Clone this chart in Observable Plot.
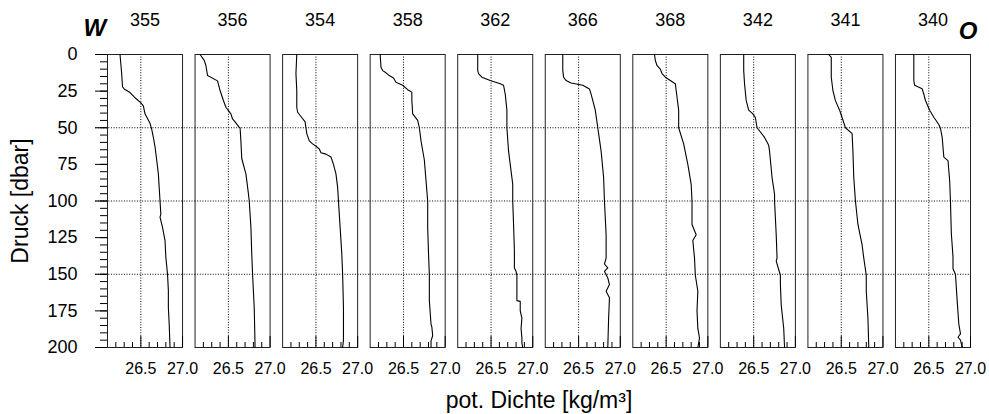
<!DOCTYPE html>
<html><head><meta charset="utf-8">
<script src="https://cdn.jsdelivr.net/npm/d3@7"></script>
<script src="https://cdn.jsdelivr.net/npm/@observablehq/plot@0.6"></script>
<style>
body{margin:0;background:#fff;}
g[aria-label="x-axis label"] text, g[aria-label="y-axis label"] text { font-size: 23px; }
</style>
</head><body><div id="chart"></div>
<script>
// Stations, west (W) to east (O)
const stations = ["355","356","354","358","362","366","368","342","341","340"];

// Pressure [dbar] and potential density [kg/m³] read from the profiles
const pres355 = [0,13,22,23.5,26,29,33,35,40.5,47,51,56.5,63,72,81.5,90.7,100,109,111,118,127,138.5,150,161,172.7,184,200];
const dens355 = [26.25,26.27,26.28,26.30,26.37,26.42,26.50,26.53,26.55,26.61,26.63,26.65,26.67,26.69,26.71,26.72,26.73,26.74,26.73,26.76,26.79,26.80,26.82,26.83,26.83,26.84,26.85];

const pres356 = [0,4,7.5,14.4,18,24.6,31.4,36,40.5,44,46,49.7,50,59,71,81.5,95,100,118,136,150,173,200];
const dens356 = [26.16,26.21,26.23,26.25,26.37,26.40,26.44,26.47,26.53,26.55,26.58,26.63,26.64,26.65,26.66,26.71,26.74,26.75,26.77,26.78,26.79,26.81,26.82];

const pres354 = [0,13,24.6,36,39.4,43,46,50,54,59,61,63,64.5,67,68,70,75,81.5,90.7,100,118,136,150,173,195,200];
const dens354 = [26.27,26.26,26.27,26.27,26.28,26.33,26.37,26.38,26.39,26.42,26.46,26.51,26.54,26.56,26.62,26.68,26.71,26.74,26.76,26.77,26.79,26.81,26.82,26.83,26.83,26.82];

const pres358 = [0,8.7,11,12.5,14.4,16,19,21,24,25.7,31.4,40.5,45,50,59,72,86,100,118,136,150,168,184,186,192,195.5,200];
const dens358 = [26.22,26.23,26.25,26.29,26.33,26.38,26.41,26.49,26.55,26.60,26.60,26.61,26.67,26.69,26.71,26.75,26.77,26.79,26.79,26.80,26.81,26.81,26.83,26.84,26.85,26.83,26.83];

const pres362 = [0,11,13,15.5,17.8,20,21,27,38,50,66,84,88.6,100,116,134,145.7,148,150.7,157,168,168.5,175,180,187,193.6,197,200];
const dens362 = [26.34,26.34,26.35,26.39,26.49,26.61,26.65,26.67,26.69,26.69,26.71,26.75,26.76,26.76,26.77,26.78,26.78,26.80,26.81,26.81,26.81,26.85,26.85,26.87,26.86,26.87,26.87,26.88];

const pres366 = [0,11,15.5,17.8,19.4,21,23.5,27,38,50,66,84,100,123,139,143,145.7,148,152.5,157,161.6,166,180,200];
const dens366 = [26.31,26.31,26.32,26.35,26.41,26.55,26.63,26.65,26.70,26.73,26.77,26.80,26.81,26.83,26.83,26.81,26.85,26.81,26.85,26.87,26.83,26.87,26.86,26.85];

const pres368 = [0,4,7.5,10,13,15.5,17.8,20,29,38,50,61,75,88.6,100,116,123,127,139,150.7,161.6,175,187,193.6,200];
const dens368 = [26.36,26.37,26.39,26.43,26.45,26.49,26.55,26.61,26.63,26.65,26.65,26.71,26.76,26.80,26.81,26.81,26.86,26.82,26.84,26.85,26.88,26.87,26.88,26.90,26.88];

const pres342 = [0,11,20,31.5,38,40.5,43,50,56.6,62,66,84,95.4,100,123,139,141,150.7,157,171,187,200];
const dens342 = [26.38,26.38,26.39,26.41,26.44,26.49,26.52,26.54,26.63,26.68,26.69,26.72,26.75,26.75,26.77,26.78,26.77,26.82,26.82,26.83,26.86,26.87];

const pres341 = [0,2,15.5,24.6,31.5,38,43,50,54,66,84,100,116,130,139,150.7,161.6,180,200];
const dens341 = [26.35,26.38,26.38,26.40,26.43,26.48,26.51,26.55,26.63,26.64,26.65,26.67,26.70,26.75,26.77,26.80,26.80,26.82,26.83];

const pres340 = [0,17.7,21,23.4,27,31.4,38,42.8,47.8,50.5,56.4,70,72.4,86,100.8,122,138,145,146.3,150.2,168,184,190.7,193,195,200];
const dens340 = [26.32,26.32,26.33,26.42,26.44,26.46,26.51,26.56,26.62,26.64,26.66,26.68,26.73,26.75,26.76,26.77,26.79,26.79,26.79,26.82,26.84,26.86,26.88,26.85,26.88,26.90];

// Axis ticks
const xDomain = [26.1, 27.0];
const xMajor = [26.5, 27.0];
const xMinor = [26.2, 26.3, 26.4, 26.6, 26.7, 26.8, 26.9];
const yMajor = [0, 25, 50, 75, 100, 125, 150, 175, 200];
const yMinor = d3.range(0, 201, 5);
const yGrid = [50, 100, 150];

const profiles = {
  "355": [pres355, dens355], "356": [pres356, dens356], "354": [pres354, dens354],
  "358": [pres358, dens358], "362": [pres362, dens362], "366": [pres366, dens366],
  "368": [pres368, dens368], "342": [pres342, dens342], "341": [pres341, dens341],
  "340": [pres340, dens340]
};
const rows = stations.flatMap(s => profiles[s][0].map((p, i) => ({station: s, p, d: profiles[s][1][i]})));

// fx band padding; horizontal grid bridges the gap to the next panel
const padInner = 0.143;
const gapUnits = padInner / (1 - padInner) * (xDomain[1] - xDomain[0]);
const gridRows = stations.flatMap((s, i) => yGrid.map(p => ({
  station: s, p,
  x1: i === 0 ? xDomain[0] - 0.14 : xDomain[0],
  x2: i === stations.length - 1 ? xDomain[1] : xDomain[1] + gapUnits
})));

const font = "'Liberation Sans', Arial, sans-serif";
const dots = "1,1.6";

const chart = Plot.plot({
  width: 989, height: 414,
  marginLeft: 107, marginRight: 19, marginTop: 54, marginBottom: 67,
  style: {fontFamily: font, fontSize: "16px", background: "white", color: "black"},
  fx: {domain: stations, paddingInner: padInner, paddingOuter: 0, round: false, label: null},
  x: {domain: xDomain, label: null},
  y: {domain: [0, 200], reverse: true, label: null},
  marks: [
    Plot.ruleY(gridRows, {fx: "station", y: "p", x1: "x1", x2: "x2", stroke: "#000", strokeWidth: 1, strokeDasharray: dots}),
    Plot.ruleX(xMajor.slice(0, 1), {stroke: "#000", strokeWidth: 1, strokeDasharray: dots}),
    Plot.frame({stroke: "#222", strokeWidth: 1}),
    Plot.line(rows, {fx: "station", z: "station", x: "d", y: "p", stroke: "#000", strokeWidth: 1.1}),
    Plot.axisFx({anchor: "top", tickSize: 0, tickPadding: 29, fontSize: 18, label: null}),
    Plot.axisY(yMajor, {tickSize: 12, tickPadding: 18, fontSize: 18, label: "Druck [dbar]", labelAnchor: "center", labelOffset: 96, labelArrow: "none"}),
    Plot.axisY(yMinor, {tickSize: 7, tickFormat: () => "", label: null}),
    Plot.axisX(xMajor, {tickSize: -11, tickPadding: 26, fontSize: 16, tickFormat: d3.format(".1f"), label: "pot. Dichte [kg/m³]", labelAnchor: "center", labelOffset: 60, labelArrow: "none"}),
    Plot.axisX(xMinor, {tickSize: -5, tickFormat: () => "", label: null}),
    Plot.text(["W"], {fx: ["355"], frameAnchor: "top-left", dx: -24, dy: -36, fontSize: 24, fontWeight: "bold", fontStyle: "italic", fill: "#000"}),
    Plot.text(["O"], {fx: ["340"], frameAnchor: "top-right", dx: 7, dy: -33, fontSize: 24, fontWeight: "bold", fontStyle: "italic", fill: "#000"})
  ]
});
document.getElementById("chart").appendChild(chart);
</script>
</body></html>
